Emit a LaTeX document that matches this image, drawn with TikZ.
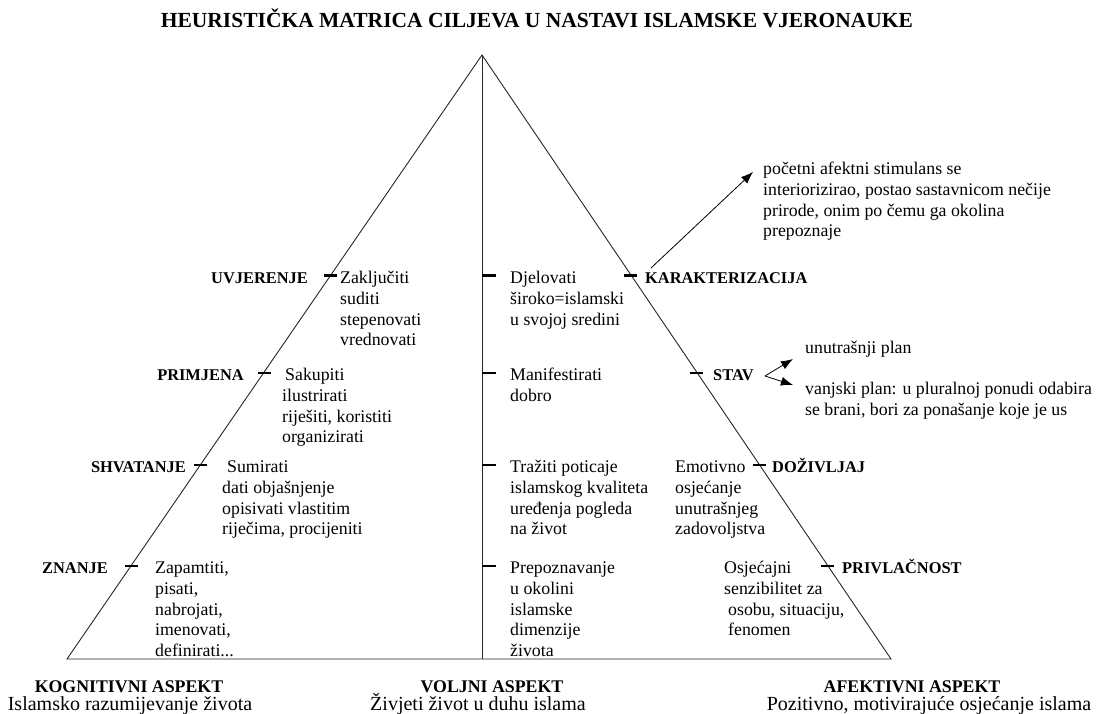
\documentclass[tikz,border=0pt]{standalone}
\usepackage{fontspec}
\setmainfont{Liberation Serif}
\usetikzlibrary{arrows.meta,calc}
\begin{document}
\begin{tikzpicture}[x=1pt,y=-1pt,
  body/.style={font=\fontsize{17.8}{20.7}\selectfont, anchor=north west, inner sep=0pt, align=left},
  lblL/.style={font=\fontsize{16.4}{19}\selectfont\bfseries, inner sep=0pt, anchor=base east},
  lblR/.style={font=\fontsize{16.4}{19}\selectfont\bfseries, inner sep=0pt, anchor=base west},
  edge/.style={line width=0.9pt, black!85},
  tickmark/.style={line width=2.6pt},
  ptr/.style={line width=0.8pt, -{Latex[length=12pt,width=9pt]}},
  head/.style={font=\fontsize{17.8}{20}\selectfont\bfseries, inner sep=0pt, anchor=base},
  sub/.style={font=\fontsize{20}{22}\selectfont, inner sep=0pt, anchor=base}]
\useasboundingbox (0,0) rectangle (1100,713);

% title
\node[font=\fontsize{21.5}{24}\selectfont\bfseries, inner sep=0pt, anchor=base] (title) at (537,27)
  {HEURISTIČKA MATRICA CILJEVA U NASTAVI ISLAMSKE VJERONAUKE};

% triangle
\coordinate (A) at (482,55);
\coordinate (BL) at (67,659);
\coordinate (BR) at (891,659);
\coordinate (BM) at (482,659);
\draw[edge] (BL) -- (A) -- (BR) -- cycle;
\draw[edge] (A) -- (BM);

% ticks on left edge
\foreach \f/\n in {0.3651/l1,0.5265/l2,0.6788/l3,0.8460/l4}{
  \coordinate (\n) at ($(A)!\f!(BL)$);
  \draw[tickmark] (\n) ++(-6,0) -- ++(13,0);
}
% ticks on right edge
\foreach \f/\n in {0.3651/r1,0.5265/r2,0.6788/r3,0.8460/r4}{
  \coordinate (\n) at ($(A)!\f!(BR)$);
  \draw[tickmark] (\n) ++(-7,0) -- ++(13,0);
}
% ticks on middle line
\foreach \f/\n in {0.3651/m1,0.5265/m2,0.6788/m3,0.8460/m4}{
  \coordinate (\n) at ($(A)!\f!(BM)$);
  \draw[tickmark] (\n) -- ++(14,0);
}

% left labels
\node[lblL] (uvj) at (308,283.5) {UVJERENJE};
\node[lblL] (pri) at (244,380.5) {PRIMJENA};
\node[lblL] (shv) at (186,472.5) {SHVATANJE};
\node[lblL] (zna) at (108,573.5) {ZNANJE};

% left texts
\node[body] (t1) at (340,269) {\strut Zaključiti\\suditi\\stepenovati\\vrednovati};
\node[body] (t2) at (282,366) {\strut\hspace*{3pt}Sakupiti\\ilustrirati\\riješiti, koristiti\\organizirati};
\node[body] (t3) at (222,458) {\strut\hspace*{5pt}Sumirati\\dati objašnjenje\\opisivati vlastitim\\riječima, procijeniti};
\node[body] (t4) at (155,559) {\strut Zapamtiti,\\pisati,\\nabrojati,\\imenovati,\\definirati...};

% middle texts
\node[body] (m1t) at (510,269) {\strut Djelovati\\široko=islamski\\u svojoj sredini};
\node[body] (m2t) at (510,366) {\strut Manifestirati\\dobro};
\node[body] (m3t) at (510,458) {\strut Tražiti poticaje\\islamskog kvaliteta\\uređenja pogleda\\na život};
\node[body] (m4t) at (510,559) {\strut Prepoznavanje\\u okolini\\islamske\\dimenzije\\života};

% right texts
\node[body] (e1) at (675,458) {\strut Emotivno\\osjećanje\\unutrašnjeg\\zadovoljstva};
\node[body] (e2) at (724,559) {\strut Osjećajni\\senzibilitet za\\\hspace*{4pt}osobu, situaciju,\\\hspace*{4pt}fenomen};

% right labels
\node[lblR] (kar) at (645,283.5) {KARAKTERIZACIJA};
\node[lblR] (sta) at (713,380.5) {STAV};
\node[lblR] (dozi) at (772,472.5) {DOŽIVLJAJ};
\node[lblR] (priv) at (842,573.5) {PRIVLAČNOST};

% characterisation arrow and text
\coordinate (kA) at (651,268);
\coordinate (kB) at (753,172);
\draw[ptr] (kA) -- (kB);
\node[body] (kt) at (763,160) {\strut početni afektni stimulans se\\interiorizirao, postao sastavnicom nečije\\prirode, onim po čemu ga okolina\\prepoznaje};

% stav arrows and texts
\coordinate (sv) at (765,376);
\coordinate (su) at (793,359);
\coordinate (sd) at (793,385);
\draw[ptr] (sv) -- (su);
\draw[ptr] (sv) -- (sd);
\node[body] (un) at (805,339) {\strut unutrašnji plan};
\node[body] (va) at (805,380) {\strut vanjski plan: u pluralnoj ponudi odabira\\se brani, bori za ponašanje koje je us};

% bottom aspects
\node[head] (kog) at (129,692) {KOGNITIVNI ASPEKT};
\node[sub] (kogs) at (130,710) {Islamsko razumijevanje života};
\node[head] (vol) at (492,692) {VOLJNI ASPEKT};
\node[sub] (vols) at (478,710) {Živjeti život u duhu islama};
\node[head] (afe) at (912,692) {AFEKTIVNI ASPEKT};
\node[sub] (afes) at (929,710) {Pozitivno, motivirajuće osjećanje islama};
\end{tikzpicture}
\end{document}
